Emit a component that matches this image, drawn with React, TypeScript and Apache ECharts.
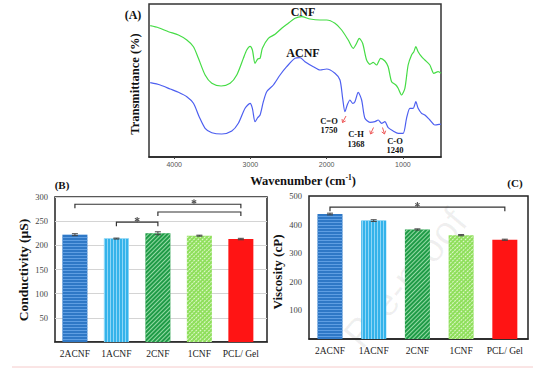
import React, { useEffect, useRef } from "react";
import * as echarts from "echarts";

// ---------- Panel A: FTIR spectra ----------
const wavenumberCNF = [4314, 4206, 4075, 3944, 3834, 3747, 3682, 3594, 3506, 3384, 3266, 3179, 3092, 3048, 3004, 2974, 2939, 2904, 2873, 2843, 2765, 2677, 2589, 2503, 2415, 2327, 2218, 2087, 2000, 1891, 1803, 1717, 1651, 1607, 1573, 1528, 1476, 1432, 1389, 1345, 1292, 1236, 1193, 1148, 1092, 1062, 1017, 974, 931, 886, 856, 830, 800, 755, 712, 646, 594, 538, 500];
const transmittanceCNF = [131.3, 129.3, 125.3, 122, 117, 110.3, 98.7, 82, 73.7, 71, 73.7, 82, 98.7, 107, 110.7, 107, 93.7, 98, 98.7, 108.7, 118.7, 122.7, 128.7, 133.7, 138.7, 140.3, 138, 137, 137, 133.7, 127, 117, 108.7, 113.7, 118.7, 113.7, 97, 92.7, 94.7, 92, 98.7, 96, 90.3, 75.3, 72, 68.7, 62, 68.7, 92, 102, 105.3, 110.3, 105.3, 100.3, 97, 92, 83.7, 85.3, 83.7];
const wavenumberACNF = [4314, 4183, 4052, 3944, 3834, 3747, 3672, 3594, 3506, 3375, 3244, 3158, 3070, 3004, 2974, 2939, 2904, 2873, 2830, 2786, 2699, 2611, 2524, 2415, 2349, 2284, 2175, 2087, 2000, 1891, 1825, 1790, 1760, 1730, 1694, 1659, 1629, 1586, 1541, 1498, 1432, 1367, 1324, 1279, 1236, 1193, 1127, 1062, 996, 952, 908, 865, 830, 800, 755, 712, 646, 581, 515, 500];
const transmittanceACNF = [74.3, 72, 68, 64.7, 60.3, 53.7, 40.3, 28.7, 24.3, 23, 26, 33.7, 48.7, 53.7, 48.7, 35.3, 39.3, 42, 55.3, 65.3, 72, 82, 90.3, 98.7, 99.3, 95.3, 90.3, 87, 88, 83.7, 77, 58.7, 45.3, 52, 57, 53.7, 55.3, 64.7, 57, 38.7, 34.7, 35.3, 37, 33.7, 35.3, 29.3, 26, 23.7, 23.7, 38.7, 48.7, 48.7, 55.3, 48.7, 43.7, 42, 37, 32, 32.7, 33];
const ftirTicks = [1000, 2000, 3000, 4000];

// ---------- Panels B & C ----------
const categories = ["2ACNF", "1ACNF", "2CNF", "1CNF", "PCL/ Gel"];
const categoryIndex = [0, 1, 2, 3, 4];
const conductivity = [222, 214, 225, 220, 213];
const conductivityErr = [2, 1, 3, 1, 1.5];
const viscosity = [437, 414, 383, 363, 347];
const viscosityErr = [3, 3, 2, 2, 2];
// [from category, to category, level, asterisk position (-1 = none)]
const conductivityBrackets = [
  [0, 4, 285, 2.87],
  [1, 2, 248, 1.5],
  [2, 4, 269, -1],
];
const viscosityBrackets = [[0, 4, 461, 2.0]];

const SERIF = "'Liberation Serif', 'Times New Roman', serif";
const SANS = "'Liberation Sans', Arial, sans-serif";

const barColors = ["#2f78c6", "#34b3ea", "#1f9b47", "#8fdf5c", "#ff1414"];
const barDecals: any[] = [
  { symbol: "rect", symbolSize: 1, dashArrayX: [1, 0], dashArrayY: [1, 2], rotation: 0, color: "rgba(110,170,235,0.75)" },
  { symbol: "rect", symbolSize: 1, dashArrayX: [1, 0], dashArrayY: [1, 2], rotation: Math.PI / 2, color: "rgba(170,225,250,0.75)" },
  { symbol: "rect", symbolSize: 1, dashArrayX: [1, 0], dashArrayY: [1, 2], rotation: -Math.PI / 4, color: "rgba(200,245,205,0.7)" },
  { symbol: "rect", symbolSize: 1, dashArrayX: [2, 1], dashArrayY: [1, 2], rotation: -Math.PI / 4, color: "rgba(245,255,235,0.8)" },
  "none",
];

function barData(values: number[]) {
  return values.map((v, i) => ({
    value: [categoryIndex[i], v],
    itemStyle: {
      color: barColors[i],
      decal: barDecals[i] === "none" ? undefined : barDecals[i],
    },
  }));
}

function errRender(params: any, api: any) {
  const i = api.value(0);
  const v = api.value(1);
  const e = api.value(2);
  const hi = api.coord([i, v + e]);
  const lo = api.coord([i, v - e]);
  const w = 3;
  const st = { stroke: "#444", lineWidth: 1 };
  return {
    type: "group",
    children: [
      { type: "line", shape: { x1: hi[0], y1: hi[1], x2: lo[0], y2: lo[1] }, style: st },
      { type: "line", shape: { x1: hi[0] - w, y1: hi[1], x2: hi[0] + w, y2: hi[1] }, style: st },
      { type: "line", shape: { x1: lo[0] - w, y1: lo[1], x2: lo[0] + w, y2: lo[1] }, style: st },
    ],
  };
}

function bracketRender(params: any, api: any) {
  const a = api.value(0);
  const b = api.value(1);
  const lv = api.value(2);
  const s = api.value(3);
  const p1 = api.coord([a, lv]);
  const p2 = api.coord([b, lv]);
  const drop = 4;
  const children: any[] = [
    {
      type: "polyline",
      shape: { points: [[p1[0], p1[1] + drop], [p1[0], p1[1]], [p2[0], p2[1]], [p2[0], p2[1] + drop]] },
      style: { stroke: "#333", fill: "none", lineWidth: 1.2 },
    },
  ];
  if (s >= 0) {
    const ps = api.coord([s, lv]);
    const cx = ps[0];
    const cy = ps[1] - 2.5;
    const r = 2.6;
    for (let k = 0; k < 3; k++) {
      const ang = Math.PI / 2 + (k * Math.PI) / 3;
      children.push({
        type: "line",
        shape: {
          x1: cx - r * Math.cos(ang),
          y1: cy - r * Math.sin(ang),
          x2: cx + r * Math.cos(ang),
          y2: cy + r * Math.sin(ang),
        },
        style: { stroke: "#555555", lineWidth: 1.1 },
      });
    }
  }
  return { type: "group", children };
}

function arrow(x1: number, y1: number, x2: number, y2: number) {
  const ang = Math.atan2(y2 - y1, x2 - x1);
  const L = 3.5;
  const a1 = ang + Math.PI * 0.8;
  const a2 = ang - Math.PI * 0.8;
  const col = "#ee5a5a";
  return [
    { type: "line", shape: { x1, y1, x2, y2 }, style: { stroke: col, lineWidth: 1 } },
    {
      type: "polyline",
      shape: { points: [[x2 + L * Math.cos(a1), y2 + L * Math.sin(a1)], [x2, y2], [x2 + L * Math.cos(a2), y2 + L * Math.sin(a2)]] },
      style: { stroke: col, fill: "none", lineWidth: 1 },
    },
  ];
}

function txt(x: number, y: number, text: string, font: string, extra: any = {}) {
  return {
    type: "text",
    x,
    y,
    style: { text, font, fill: "#111", align: "center", verticalAlign: "middle", ...extra.style },
    rotation: extra.rotation || 0,
    z: 10,
  };
}

export default function App() {
  const ref = useRef<HTMLDivElement>(null);
  useEffect(() => {
    if (!ref.current) return;
    const chart = echarts.init(ref.current, undefined, { renderer: "svg" });
    const bold12 = `bold 12.5px ${SERIF}`;
    const catAxis = (gridIndex: number, min: number, max: number) => ({
      type: "value",
      gridIndex,
      min,
      max,
      axisLine: { show: true, onZero: false, lineStyle: { color: "#222", width: 1.5 } },
      axisTick: { show: false },
      splitLine: { show: false },
      axisLabel: {
        customValues: categoryIndex,
        fontSize: 9.5,
        fontFamily: SERIF,
        color: "#222",
        margin: 7,
        formatter: (v: number) => categories[Math.round(v)] ?? "",
      },
    });
    const option: any = {
      animation: false,
      backgroundColor: "#ffffff",
      grid: [
        { left: 149, top: 4, width: 292, height: 153, show: true, borderColor: "#333", borderWidth: 1.5, backgroundColor: "transparent" },
        { left: 55, top: 197, width: 212, height: 145, show: true, borderColor: "#222", borderWidth: 1.5, backgroundColor: "transparent" },
        { left: 309, top: 196, width: 219, height: 143, show: true, borderColor: "#222", borderWidth: 1.5, backgroundColor: "transparent" },
      ],
      xAxis: [
        {
          type: "value",
          gridIndex: 0,
          inverse: true,
          min: 500,
          max: 4330,
          axisLine: { show: true, lineStyle: { color: "#222", width: 1.5 } },
          axisTick: { show: true, customValues: ftirTicks, length: 2, lineStyle: { color: "#444" } },
          axisLabel: {
            customValues: ftirTicks,
            fontSize: 7,
            fontFamily: SANS,
            color: "#555",
            margin: 4,
            formatter: (v: number) => String(v),
          },
          splitLine: { show: false },
        },
        catAxis(1, -0.48, 4.63),
        catAxis(2, -0.48, 4.53),
      ],
      yAxis: [
        {
          type: "value",
          gridIndex: 0,
          min: 0,
          max: 153,
          axisLine: { show: false },
          axisTick: { show: false },
          axisLabel: { show: false },
          splitLine: { show: false },
        },
        {
          type: "value",
          gridIndex: 1,
          min: 0,
          max: 300,
          interval: 50,
          axisLine: { show: false },
          axisTick: { show: false },
          axisLabel: { showMinLabel: false, fontSize: 8.5, fontFamily: SERIF, color: "#444", margin: 7 },
          splitLine: { show: true, lineStyle: { color: "#d4d4d4", width: 1 } },
        },
        {
          type: "value",
          gridIndex: 2,
          min: 0,
          max: 500,
          interval: 100,
          axisLine: { show: false },
          axisTick: { show: false },
          axisLabel: { showMinLabel: false, fontSize: 8.5, fontFamily: SERIF, color: "#444", margin: 7 },
          splitLine: { show: false },
        },
      ],
      series: [
        {
          name: "CNF",
          type: "line",
          xAxisIndex: 0,
          yAxisIndex: 0,
          data: wavenumberCNF.map((w, i) => [w, transmittanceCNF[i]]),
          showSymbol: false,
          smooth: 0.25,
          lineStyle: { color: "#45dc45", width: 1.2 },
        },
        {
          name: "ACNF",
          type: "line",
          xAxisIndex: 0,
          yAxisIndex: 0,
          data: wavenumberACNF.map((w, i) => [w, transmittanceACNF[i]]),
          showSymbol: false,
          smooth: 0.25,
          lineStyle: { color: "#4d5ff0", width: 1.2 },
        },
        {
          type: "bar",
          xAxisIndex: 1,
          yAxisIndex: 1,
          barWidth: 25,
          data: barData(conductivity),
        },
        {
          type: "custom",
          xAxisIndex: 1,
          yAxisIndex: 1,
          itemStyle: { color: "#444" },
          data: conductivity.map((v, i) => [categoryIndex[i], v, conductivityErr[i]]),
          renderItem: errRender,
          z: 5,
        },
        {
          type: "custom",
          xAxisIndex: 1,
          yAxisIndex: 1,
          itemStyle: { color: "#555" },
          encode: { x: 0, y: 2 },
          data: conductivityBrackets,
          renderItem: bracketRender,
          z: 5,
        },
        {
          type: "bar",
          xAxisIndex: 2,
          yAxisIndex: 2,
          barWidth: 25,
          data: barData(viscosity),
        },
        {
          type: "custom",
          xAxisIndex: 2,
          yAxisIndex: 2,
          itemStyle: { color: "#444" },
          data: viscosity.map((v, i) => [categoryIndex[i], v, viscosityErr[i]]),
          renderItem: errRender,
          z: 5,
        },
        {
          type: "custom",
          xAxisIndex: 2,
          yAxisIndex: 2,
          itemStyle: { color: "#555" },
          encode: { x: 0, y: 2 },
          data: viscosityBrackets,
          renderItem: bracketRender,
          z: 5,
        },
      ],
      graphic: [
        // watermark
        {
          type: "text",
          x: 405,
          y: 278,
          rotation: Math.PI / 3.6,
          z: -1,
          style: { text: "Pre-proof", font: `40px ${SANS}`, fill: "rgba(0,0,0,0.06)", align: "center", verticalAlign: "middle" },
        },
        txt(133, 15, "(A)", `bold 12px ${SERIF}`),
        txt(303, 12, "CNF", `bold 12px ${SERIF}`),
        txt(303, 53, "ACNF", `bold 12px ${SERIF}`),
        txt(329, 121, "C=O", `bold 8.5px ${SERIF}`),
        txt(329, 129.5, "1750", `bold 8.5px ${SERIF}`),
        txt(356, 134, "C-H", `bold 8.5px ${SERIF}`),
        txt(356, 143.5, "1368", `bold 8.5px ${SERIF}`),
        txt(395, 141, "C-O", `bold 8.5px ${SERIF}`),
        txt(395, 150, "1240", `bold 8.5px ${SERIF}`),
        ...arrow(346, 116, 342.5, 122.5),
        ...arrow(373.5, 127.5, 370.5, 134),
        ...arrow(382.5, 127.5, 384.5, 134),
        {
          type: "text",
          x: 303,
          y: 181,
          z: 10,
          style: {
            text: "{a|Wavenumber (cm}{s|-1}{a|)}",
            align: "center",
            verticalAlign: "middle",
            rich: {
              a: { font: bold12, fill: "#111" },
              s: { font: `bold 7.5px ${SERIF}`, fill: "#111", padding: [0, 0, 7, 0] },
            },
          },
        },
        txt(135, 84, "Transmittance (%)", bold12, { rotation: Math.PI / 2 }),
        txt(62, 185, "(B)", `bold 11px ${SERIF}`),
        txt(515, 183, "(C)", `bold 11px ${SERIF}`),
        txt(23, 270, "Conductivity (µS)", `bold 13.5px ${SERIF}`, { rotation: Math.PI / 2 }),
        txt(277, 272, "Viscosity (cP)", `bold 13px ${SERIF}`, { rotation: Math.PI / 2 }),
        {
          type: "line",
          shape: { x1: 12, y1: 367, x2: 533, y2: 367 },
          style: { stroke: "#f5caca", lineWidth: 1 },
        },
      ],
    };
    chart.setOption(option);
    return () => chart.dispose();
  }, []);
  return (
    <div
      ref={ref}
      style={{ position: "fixed", left: 0, top: 0, width: 554, height: 372, background: "#fff" }}
    />
  );
}
